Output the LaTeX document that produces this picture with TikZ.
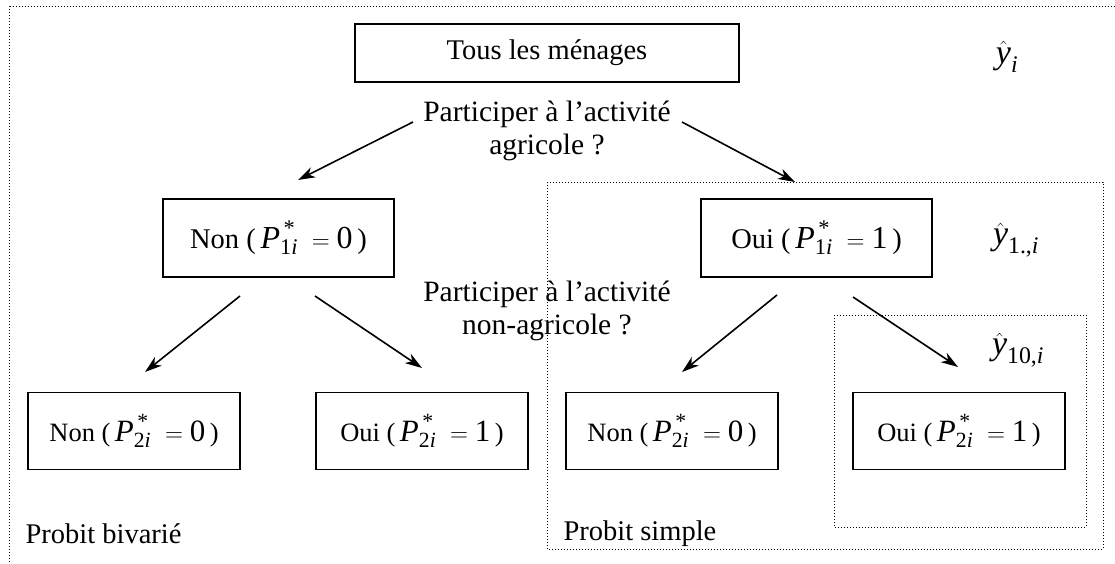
\documentclass[tikz,border=0pt]{standalone}
\usepackage{amsmath}
\usepackage{fontspec}
\setmainfont{Liberation Serif}
\usetikzlibrary{arrows.meta}
\newcommand{\Pstar}[3]{{\fontsize{#3}{33}\selectfont$\text{\itshape P}^{\,\text{*}}_{\text{#1\itshape i}}\;=\text{#2}$}}
\begin{document}
\begin{tikzpicture}[x=1pt,y=-1pt,
  every node/.style={font=\fontsize{28.5}{33}\selectfont},
  box/.style={draw, line width=1.7pt, inner sep=0pt},
  lvtwo/.style={box, minimum width=231pt, minimum height=78pt},
  lvthree/.style={box, minimum width=212pt, minimum height=77pt, font=\fontsize{26.5}{30}\selectfont},
  frame/.style={dotted, line width=1pt},
  arr/.style={line width=1.6pt, -{Stealth[length=17pt,width=11pt,inset=5pt]}},
  question/.style={align=center, font=\fontsize{29.5}{33}\selectfont},
  hat/.style={font=\fontsize{34}{36}\selectfont}]
\useasboundingbox (0,0) rectangle (1115,564);
\draw[frame] (9.5,580) -- (9.5,7) -- (1130,7);
\draw[frame] (547,182) rectangle (1103,549);
\draw[frame] (834,315) rectangle (1086,527);

\node[box, minimum width=384pt, minimum height=58pt] (all) at (547,53) {Tous les ménages};
\node[hat] (yi) at (1007,57) {$\hat{\text{\itshape y}}_{\text{\itshape i}}$};

\node[question] (q1) at (547,131) {Participer à l’activité\\agricole ?};

\node[lvtwo] (non1) at (278.5,238) {Non (\,\Pstar{1}{0}{32}\,)};
\node[lvtwo] (oui1) at (816.5,238) {Oui (\,\Pstar{1}{1}{32}\,)};
\node[hat] (y1) at (1016,240) {$\hat{\text{\itshape y}}_{\text{1.,\itshape i}}$};

\node[question] (q2) at (547,311) {Participer à l’activité\\non-agricole ?};
\node[hat] (y10) at (1018,350) {$\hat{\text{\itshape y}}_{\text{10,\itshape i}}$};

\node[lvthree] (non2a) at (134,431) {Non (\,\Pstar{2}{0}{31}\,)};
\node[lvthree] (oui2a) at (422,431) {Oui (\,\Pstar{2}{1}{31}\,)};
\node[lvthree] (non2b) at (672,431) {Non (\,\Pstar{2}{0}{31}\,)};
\node[lvthree] (oui2b) at (959,431) {Oui (\,\Pstar{2}{1}{31}\,)};

\node[anchor=west] (pb) at (22,534) {Probit bivarié};
\node[anchor=west] (ps) at (560,534) {Probit simple};

\coordinate (q1l) at (413,122);
\coordinate (n1t) at (298,180);
\coordinate (q1r) at (682,122);
\coordinate (o1t) at (795,182);
\coordinate (n1l) at (240,296);
\coordinate (n2at) at (145,372);
\coordinate (n1r) at (315,296);
\coordinate (o2at) at (422,368);
\coordinate (o1l) at (777,295);
\coordinate (n2bt) at (682,372);
\coordinate (o1r) at (853,297);
\coordinate (o2bt) at (958,367);

\draw[arr] (q1l) -- (n1t);
\draw[arr] (q1r) -- (o1t);
\draw[arr] (n1l) -- (n2at);
\draw[arr] (n1r) -- (o2at);
\draw[arr] (o1l) -- (n2bt);
\draw[arr] (o1r) -- (o2bt);
\end{tikzpicture}
\end{document}
